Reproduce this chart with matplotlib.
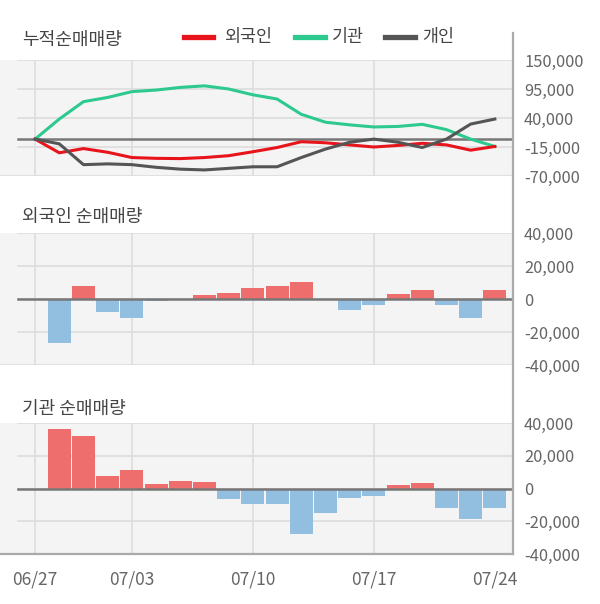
import matplotlib
matplotlib.use("Agg")
import matplotlib.pyplot as plt
from matplotlib.lines import Line2D

plt.rcParams['font.family'] = ['Noto Sans CJK KR', 'DejaVu Sans']

dates = ["06/27", "06/28", "07/01", "07/02", "07/03", "07/04", "07/05", "07/08", "07/09", "07/10",
         "07/11", "07/12", "07/15", "07/16", "07/17", "07/18", "07/19", "07/22", "07/23", "07/24"]
tick_dates = ["06/27", "07/03", "07/10", "07/17", "07/24"]
grid_dates = ["06/27", "07/03", "07/10", "07/17"]

foreign_cum = [0, -26000, -18000, -25000, -35000, -36500, -37000, -35000, -31500, -24000,
               -16000, -5000, -7000, -11000, -15000, -12000, -8000, -11000, -21000, -14000]
inst_cum = [0, 38000, 71000, 79000, 90000, 93000, 98000, 101000, 95000, 84000,
            76000, 47000, 32000, 27000, 23000, 24000, 28000, 18000, 0, -14000]
indiv_cum = [0, -9000, -48500, -47000, -48500, -53500, -57000, -58500, -55500, -52500,
             -52500, -35000, -19000, -6000, 0, -6000, -16000, 0, 28500, 38000]

foreign_daily = [0, -26500, 8000, -7700, -11300, -1000, 0, 2400, 3600, 6700,
                 7900, 10300, 0, -6700, -3600, 3000, 5500, -3600, -11300, 5500]
inst_daily = [0, 36500, 32300, 7500, 11100, 2600, 4400, 3800, -6300, -9300,
              -9300, -27500, -14800, -5700, -4500, 2000, 3200, -11800, -18400, -11800]

top_ticks = [-70000, -15000, 40000, 95000, 150000]
bar_ticks = [-40000, -20000, 0, 20000, 40000]

C_RED = "#e8141c"
C_GREEN = "#2ec98f"
C_DARK = "#555555"
C_POS = "#ee6d6d"
C_NEG = "#92bfe0"
BG = "#f4f4f4"
GRID = "#dddddd"
TXT = "#666666"

W, H = 600, 604
fig = plt.figure(figsize=(6.0, 6.04), dpi=100)

def fx(px):
    return px / W

def fy(py):
    return 1 - py / H

x = list(range(len(dates)))
tick_idx = [dates.index(d) for d in tick_dates]
grid_idx = [dates.index(d) for d in grid_dates]
XL = (-1.45, 19.75)
AX_R = 513

def make_ax(ytop, ybot, ylim, yticks):
    ax = fig.add_axes([0, fy(ybot), fx(AX_R), (ybot - ytop) / H])
    ax.set_facecolor(BG)
    ax.set_xlim(*XL)
    ax.set_ylim(*ylim)
    for s in ax.spines.values():
        s.set_visible(False)
    ax.yaxis.tick_right()
    ax.set_yticks(yticks)
    ax.set_yticklabels([f"{v:,}" for v in yticks])
    ax.tick_params(axis='y', length=0, pad=8, labelsize=11.8, labelcolor=TXT)
    ax.tick_params(axis='x', length=0)
    xm = 18 / AX_R
    for v in yticks:
        if v == ylim[0]:
            ax.axhline(v, color=GRID, lw=1.2, zorder=1)
        else:
            ax.axhline(v, xmin=xm, color=GRID, lw=1.2, zorder=1)
    for i in grid_idx:
        ax.axvline(i, color=GRID, lw=1.2, zorder=1)
    return ax

# top panel
ax1 = make_ax(60, 176, (-70000, 150000), top_ticks)
ax1.set_xticks([])
ax1.axhline(0, xmin=18 / AX_R, color="#777777", lw=1.8, zorder=2)
ax1.plot(x, inst_cum, color=C_GREEN, lw=2.2, zorder=3)
ax1.plot(x, foreign_cum, color=C_RED, lw=2.2, zorder=4)
ax1.plot(x, indiv_cum, color=C_DARK, lw=2.2, zorder=5)

def bars(ax, vals):
    cols = [C_POS if v >= 0 else C_NEG for v in vals]
    ax.bar(x, vals, width=0.95, color=cols, zorder=3, linewidth=0)
    ax.axhline(0, xmin=18 / AX_R, color="#777777", lw=1.8, zorder=4)

ax2 = make_ax(233, 365, (-40000, 40000), bar_ticks)
ax2.set_xticks([])
bars(ax2, foreign_daily)

ax3 = make_ax(423, 554, (-40000, 40000), bar_ticks)
bars(ax3, inst_daily)
ax3.set_xticks(tick_idx)
ax3.set_xticklabels(tick_dates)
ax3.tick_params(axis='x', pad=12, labelsize=12.5, labelcolor=TXT)

# frame lines
fig.add_artist(Line2D([fx(AX_R), fx(AX_R)], [fy(33), fy(554)], color="#aaaaaa", lw=1.6))
fig.add_artist(Line2D([0, fx(AX_R)], [fy(554), fy(554)], color="#aaaaaa", lw=1.6))

# titles
fig.text(fx(22), fy(40), "누적순매매량", fontsize=13, color="#444444", va='center', ha='left')
fig.text(fx(22), fy(217), "외국인 순매매량", fontsize=13, color="#444444", va='center', ha='left')
fig.text(fx(22), fy(409), "기관 순매매량", fontsize=13, color="#444444", va='center', ha='left')

# legend
leg = [(C_RED, 184, 213, 224, "외국인"), (C_GREEN, 295, 325, 332, "기관"), (C_DARK, 385, 415, 422, "개인")]
for c, x0, x1, tx, lab in leg:
    fig.add_artist(Line2D([fx(x0), fx(x1)], [fy(37), fy(37)], color=c, lw=3.8))
    fig.text(fx(tx), fy(37), lab, fontsize=12.5, color="#444444", va='center', ha='left')

fig.savefig("out.png", dpi=100)
